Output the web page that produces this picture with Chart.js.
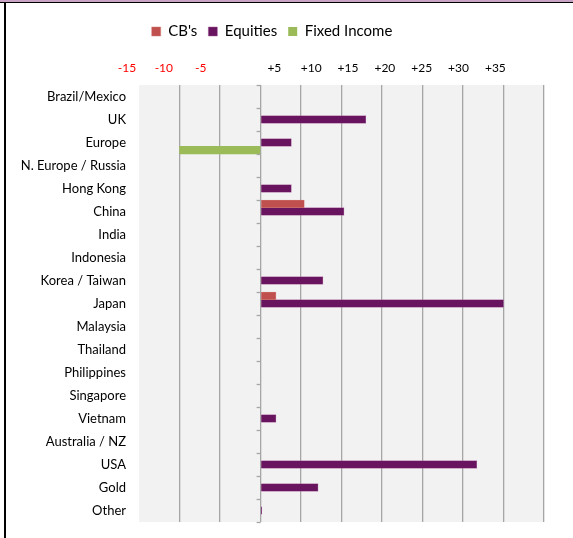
<!DOCTYPE html>
<html>
<head>
<meta charset="utf-8">
<script src="https://cdn.jsdelivr.net/npm/chart.js@4/dist/chart.umd.min.js"></script>
<style>
	html, body { margin: 0; padding: 0; background: #fff; }
	#wrap { position: relative; width: 573px; height: 538px; overflow: hidden; }
	#chart { position: absolute; left: 0; top: 0; }
	.frame-top { position: absolute; left: 0; top: 0; width: 573px; height: 2px; background: #c9a3c6; }
	.frame-line { position: absolute; left: 0; top: 2px; width: 573px; height: 1px; background: #000; }
	.frame-left { position: absolute; left: 4px; top: 3px; width: 2px; height: 535px; background: #000; }
</style>
</head>
<body>
<div id="wrap">
	<canvas id="chart" width="573" height="538"></canvas>
	<div class="frame-top"></div>
	<div class="frame-line"></div>
	<div class="frame-left"></div>
</div>
<script>
var categories = ['Brazil/Mexico', 'UK', 'Europe', 'N. Europe / Russia', 'Hong Kong', 'China', 'India',
	'Indonesia', 'Korea / Taiwan', 'Japan', 'Malaysia', 'Thailand', 'Philippines', 'Singapore',
	'Vietnam', 'Australia / NZ', 'USA', 'Gold', 'Other'];
var cbValues       = [null, null, null, null, null, 5.4, null, null, null, 1.9, null, null, null, null, null, null, null, null, null];
var equityValues   = [null, 13, 3.8, null, 3.8, 10.3, null, null, 7.7, 30, null, null, null, null, 1.9, null, 26.7, 7.1, 0.15];
var fixedIncValues = [null, null, -10, null, null, null, null, null, null, null, null, null, null, null, null, null, null, null, null];
var gridTicks = [-15, -10, -5, 0, 5, 10, 15, 20, 25, 30, 35];

var FONT = 'Lato, "Open Sans", sans-serif';
var GRID = '#a6a6a6';
var PAD_TOP = 13;

function isGridTick(v) {
	return gridTicks.indexOf(Math.round(v * 1000) / 1000) !== -1;
}

// grey plot panel between -15 and +35
var panelPlugin = {
	id: 'panel',
	beforeDraw: function (chart) {
		var x = chart.scales.x, a = chart.chartArea, ctx = chart.ctx;
		var l = x.getPixelForValue(gridTicks[0]);
		var r = x.getPixelForValue(gridTicks[gridTicks.length - 1]);
		ctx.save();
		ctx.fillStyle = '#f2f2f2';
		ctx.fillRect(l, a.top, r - l, a.bottom - a.top);
		ctx.restore();
	}
};

// small category tick marks on the zero line
var zeroTicksPlugin = {
	id: 'zeroTicks',
	afterDatasetsDraw: function (chart) {
		var x = chart.scales.x, y = chart.scales.y, ctx = chart.ctx;
		var x0 = x.getPixelForValue(0);
		var band = y.getPixelForValue(1) - y.getPixelForValue(0);
		ctx.save();
		ctx.strokeStyle = GRID;
		ctx.lineWidth = 1.3;
		for (var i = 0; i <= categories.length; i++) {
			var py = Math.round(y.getPixelForValue(i) - band / 2) + 0.5;
			ctx.beginPath();
			ctx.moveTo(x0 - 4, py);
			ctx.lineTo(x0, py);
			ctx.stroke();
		}
		ctx.restore();
	}
};

new Chart(document.getElementById('chart'), {
	type: 'bar',
	data: {
		labels: categories,
		datasets: [
			{ label: "CB's", data: cbValues, backgroundColor: '#c0504d', borderColor: 'rgba(210,120,115,0.8)', borderWidth: 0.6 },
			{ label: 'Equities', data: equityValues, backgroundColor: '#68145e', borderColor: 'rgba(160,90,150,0.8)', borderWidth: 0.6 },
			{ label: 'Fixed Income', data: fixedIncValues, backgroundColor: '#9bbb59', borderWidth: 0 }
		]
	},
	options: {
		indexAxis: 'y',
		responsive: false,
		animation: false,
		barPercentage: 1,
		categoryPercentage: 1,
		layout: { padding: { left: 0, right: 29, top: PAD_TOP, bottom: 16 } },
		plugins: {
			legend: {
				position: 'top',
				labels: {
					font: { family: FONT, size: 15 },
					color: '#000',
					boxWidth: 9,
					boxHeight: 9,
					padding: 11
				}
			},
			tooltip: { enabled: false }
		},
		scales: {
			x: {
				position: 'bottom',
				min: -16.5,
				max: 35,
				ticks: { display: false, stepSize: 5 },
				grid: {
					drawTicks: false,
					lineWidth: 1.3,
					color: function (c) { return c.tick && isGridTick(c.tick.value) ? GRID : 'rgba(0,0,0,0)'; }
				},
				border: { display: false }
			},
			x2: {
				type: 'linear',
				axis: 'x',
				position: 'top',
				min: -15,
				max: 41.6,
				afterFit: function (scale) {
					scale.height = 85 - PAD_TOP - scale.chart.legend.height;
				},
				ticks: {
					stepSize: 5,
					autoSkip: false,
					maxRotation: 0,
					padding: 10,
					font: { family: FONT, size: 12 },
					color: function (c) { return c.tick.value < 0 ? '#ff0000' : '#000'; },
					callback: function (v) {
						if (!isGridTick(v) || v === 0) return '';
						return v > 0 ? '+' + v : String(v);
					}
				},
				grid: { display: false, drawTicks: false },
				border: { display: false }
			},
			y: {
				afterFit: function (scale) { scale.width = 127; },
				ticks: {
					padding: 1,
					autoSkip: false,
					font: { family: FONT, size: 13 },
					color: '#000'
				},
				grid: { display: false, drawTicks: false },
				border: { display: false }
			}
		}
	},
	plugins: [panelPlugin, zeroTicksPlugin]
});
</script>
</body>
</html>
